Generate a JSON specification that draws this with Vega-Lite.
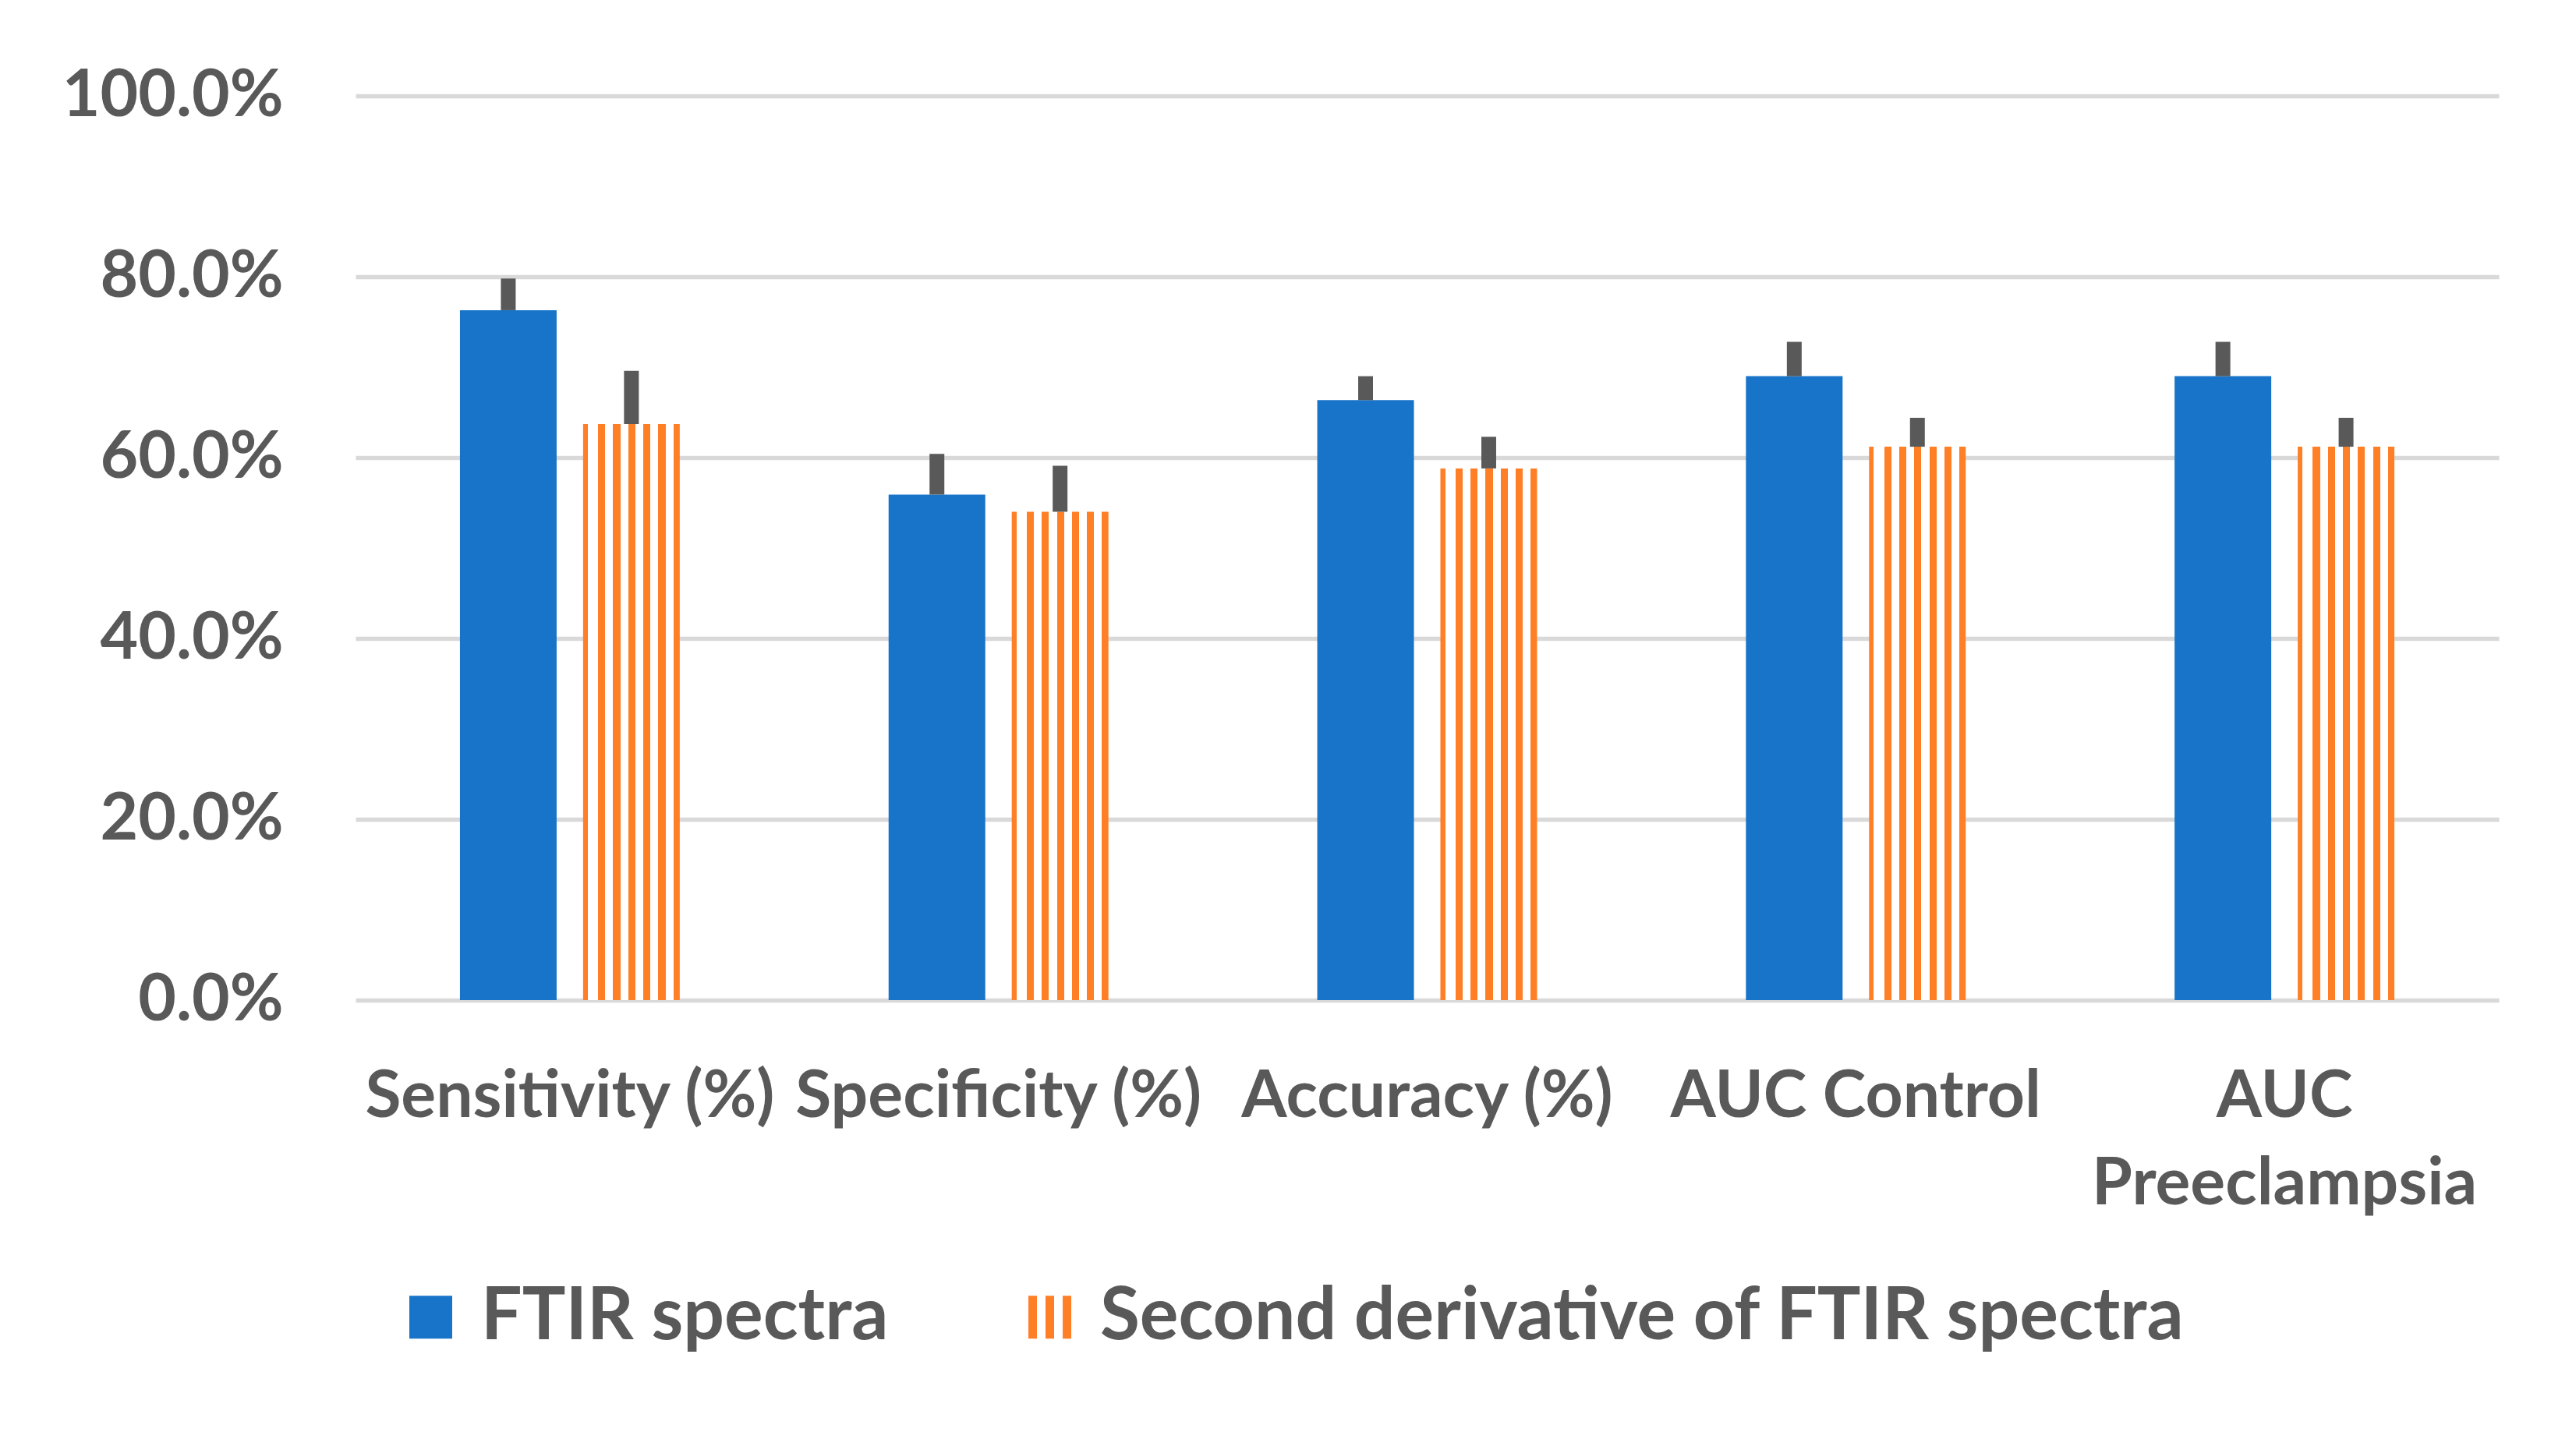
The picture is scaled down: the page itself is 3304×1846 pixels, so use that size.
{
  "$schema": "https://vega.github.io/schema/vega-lite/v6.json",
  "autosize": {"type": "none"},
  "padding": {"left": 456, "top": 123, "right": 99, "bottom": 563},
  "width": 2749,
  "height": 1160,
  "background": "white",
  "config": {
    "view": {"stroke": null},
    "font": "Lato",
    "axis": {"labelFont": "Lato", "labelFontWeight": "bold", "labelColor": "#595959", "labelFontSize": 84, "labelLimit": 0}
  },
  "data": {
    "values": [
      {"category": "Sensitivity (%)", "series": "FTIR spectra", "value": 0.763, "upper": 0.798},
      {"category": "Sensitivity (%)", "series": "Second derivative of FTIR spectra", "value": 0.637, "upper": 0.696},
      {"category": "Specificity (%)", "series": "FTIR spectra", "value": 0.559, "upper": 0.604},
      {"category": "Specificity (%)", "series": "Second derivative of FTIR spectra", "value": 0.540, "upper": 0.591},
      {"category": "Accuracy (%)", "series": "FTIR spectra", "value": 0.6635, "upper": 0.690},
      {"category": "Accuracy (%)", "series": "Second derivative of FTIR spectra", "value": 0.588, "upper": 0.623},
      {"category": "AUC Control", "series": "FTIR spectra", "value": 0.690, "upper": 0.728},
      {"category": "AUC Control", "series": "Second derivative of FTIR spectra", "value": 0.612, "upper": 0.644},
      {"category": "AUC Preeclampsia", "series": "FTIR spectra", "value": 0.690, "upper": 0.728},
      {"category": "AUC Preeclampsia", "series": "Second derivative of FTIR spectra", "value": 0.612, "upper": 0.644}
    ]
  },
  "encoding": {
    "x": {
      "field": "category", "type": "nominal", "sort": null,
      "scale": {"paddingInner": 0, "paddingOuter": 0},
      "axis": {
        "title": null, "labelAngle": 0, "domain": false, "ticks": false, "grid": false,
        "labelPadding": 83, "labelLimit": 0, "labelLineHeight": 112, "labelBaseline": "top",
        "labelExpr": "datum.label == 'AUC Preeclampsia' ? ['AUC', 'Preeclampsia'] : datum.label"
      }
    },
    "xOffset": {
      "field": "series", "type": "nominal",
      "scale": {"paddingInner": 0.215, "paddingOuter": 0.848}
    },
    "y": {
      "field": "value", "type": "quantitative",
      "scale": {"domain": [0, 1], "nice": false},
      "axis": {
        "title": null, "values": [0, 0.2, 0.4, 0.6, 0.8, 1.0], "format": ".1%",
        "domain": false, "ticks": false, "grid": true, "gridColor": "#D9D9D9", "gridWidth": 5.5,
        "labelPadding": 93, "labelBaseline": "middle", "labelLimit": 0
      }
    }
  },
  "layer": [
    {
      "mark": {"type": "bar", "strokeWidth": 0},
      "encoding": {
        "fill": {
          "condition": {"test": "datum.series == 'FTIR spectra'", "value": "#1874C8"},
          "value": {"gradient": "linear", "x1": 0, "y1": 0, "x2": 1, "y2": 0, "stops": [
            {"offset": 0, "color": "#FF7F27"}, {"offset": 0.05, "color": "#FF7F27"},
            {"offset": 0.05, "color": "#FFFFFF"}, {"offset": 0.156, "color": "#FFFFFF"},
            {"offset": 0.156, "color": "#FF7F27"}, {"offset": 0.230, "color": "#FF7F27"},
            {"offset": 0.230, "color": "#FFFFFF"}, {"offset": 0.311, "color": "#FFFFFF"},
            {"offset": 0.311, "color": "#FF7F27"}, {"offset": 0.385, "color": "#FF7F27"},
            {"offset": 0.385, "color": "#FFFFFF"}, {"offset": 0.467, "color": "#FFFFFF"},
            {"offset": 0.467, "color": "#FF7F27"}, {"offset": 0.541, "color": "#FF7F27"},
            {"offset": 0.541, "color": "#FFFFFF"}, {"offset": 0.623, "color": "#FFFFFF"},
            {"offset": 0.623, "color": "#FF7F27"}, {"offset": 0.697, "color": "#FF7F27"},
            {"offset": 0.697, "color": "#FFFFFF"}, {"offset": 0.779, "color": "#FFFFFF"},
            {"offset": 0.779, "color": "#FF7F27"}, {"offset": 0.852, "color": "#FF7F27"},
            {"offset": 0.852, "color": "#FFFFFF"}, {"offset": 0.934, "color": "#FFFFFF"},
            {"offset": 0.934, "color": "#FF7F27"}, {"offset": 1, "color": "#FF7F27"}
          ]}
        }
      }
    },
    {
      "mark": {"type": "rule", "color": "#595959", "strokeWidth": 19},
      "encoding": {
        "y2": {"field": "upper"}
      }
    },
    {
      "mark": {"type": "point", "filled": true, "opacity": 0, "size": 1},
      "encoding": {
        "color": {
          "field": "series", "type": "nominal",
          "scale": {"domain": ["FTIR spectra", "Second derivative of FTIR spectra"], "range": ["#1874C8", "#FF7F27"]},
          "legend": {
            "title": null, "orient": "none", "direction": "horizontal",
            "legendX": 50, "legendY": 1520,
            "symbolSize": 3025, "symbolStrokeWidth": 0, "symbolOpacity": 1,
            "labelFont": "Lato", "labelFontWeight": "bold", "labelFontSize": 93, "labelColor": "#595959",
            "labelOffset": 18, "columnPadding": 160, "labelLimit": 0, "padding": 0
          }
        },
        "shape": {
          "field": "series", "type": "nominal",
          "scale": {"domain": ["FTIR spectra", "Second derivative of FTIR spectra"], "range": ["square", "M-1,-1H-0.6V1H-1Z M-0.2,-1H0.2V1H-0.2Z M0.6,-1H1V1H0.6Z"]},
          "legend": {
            "title": null, "orient": "none", "direction": "horizontal",
            "legendX": 50, "legendY": 1520,
            "symbolSize": 3025, "symbolStrokeWidth": 0, "symbolOpacity": 1,
            "labelFont": "Lato", "labelFontWeight": "bold", "labelFontSize": 93, "labelColor": "#595959",
            "labelOffset": 18, "columnPadding": 160, "labelLimit": 0, "padding": 0
          }
        }
      }
    }
  ]
}
